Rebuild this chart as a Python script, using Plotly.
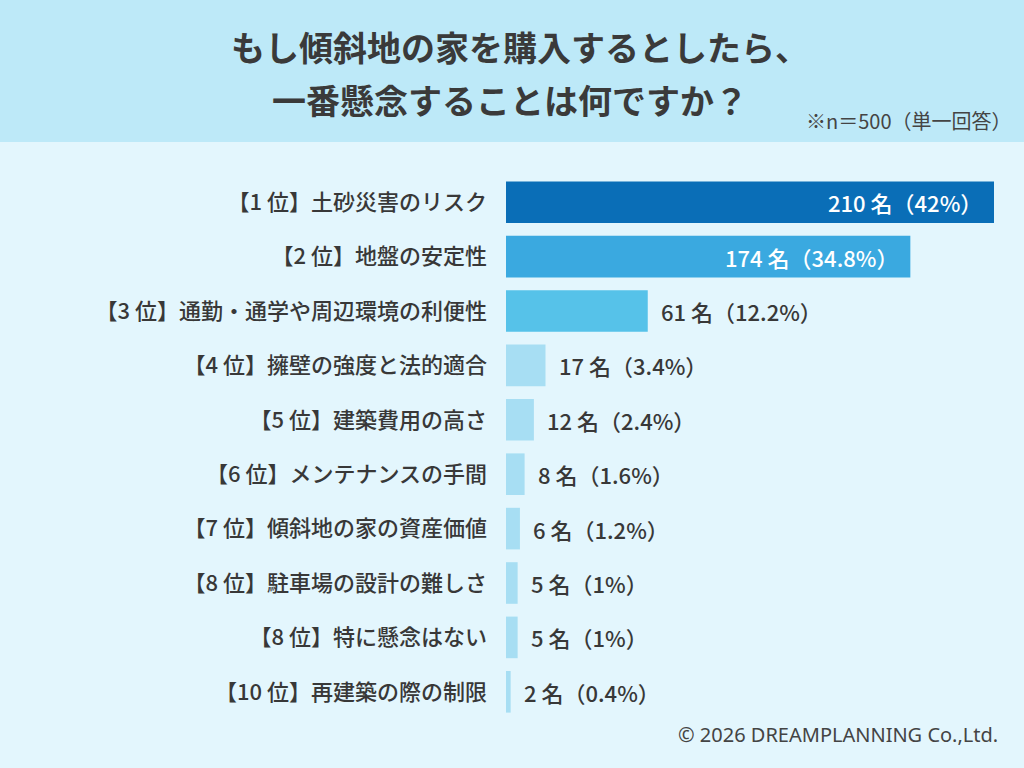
import plotly.graph_objects as go

# survey data (n=500, single answer)
labels = [
    "【1 位】土砂災害のリスク",
    "【2 位】地盤の安定性",
    "【3 位】通勤・通学や周辺環境の利便性",
    "【4 位】擁壁の強度と法的適合",
    "【5 位】建築費用の高さ",
    "【6 位】メンテナンスの手間",
    "【7 位】傾斜地の家の資産価値",
    "【8 位】駐車場の設計の難しさ",
    "【8 位】特に懸念はない",
    "【10 位】再建築の際の制限",
]
counts = [210, 174, 61, 17, 12, 8, 6, 5, 5, 2]
percents = ["42", "34.8", "12.2", "3.4", "2.4", "1.6", "1.2", "1", "1", "0.4"]
bar_colors = ["#0a6eb7", "#3aa9e0", "#56c2e9"] + ["#a7def3"] * 7

W, H = 1024, 768
M_T, M_B, M_L, M_R = 175, 49, 506, 30
FONT = "Noto Sans CJK JP"
FONT_MED = "Noto Sans CJK JP Medium, Noto Sans CJK JP"
TXT = "#383838"


def py(y):
    # pixel row -> paper y
    return (H - M_B - y) / (H - M_T - M_B)


def px(x):
    return (x - M_L) / (W - M_L - M_R)


fig = go.Figure()
fig.add_trace(go.Bar(
    x=counts,
    y=labels,
    orientation="h",
    marker=dict(color=bar_colors, line=dict(width=0)),
    hoverinfo="skip",
))

# value labels
for i, (c, p) in enumerate(zip(counts, percents)):
    inside = i < 2
    fig.add_annotation(
        x=c, y=labels[i], xref="x", yref="y",
        text=f"{c} 名（{p}%）",
        showarrow=False,
        xanchor="right" if inside else "left",
        xshift=-10 if inside else 11,
        font=dict(family=FONT_MED, size=22,
                  color="white" if inside else TXT),
    )

# header band
fig.add_shape(type="rect", xref="paper", yref="paper",
              x0=px(0), x1=px(W), y0=py(142), y1=py(0),
              fillcolor="#bde9f8", line=dict(width=0), layer="below")

fig.add_annotation(text="<b>もし傾斜地の家を購入するとしたら、</b>",
                   xref="paper", yref="paper", x=px(520), y=py(47),
                   showarrow=False, xanchor="center", yanchor="middle",
                   font=dict(family=FONT, size=34, color="#3a3a3a"))
fig.add_annotation(text="<b>一番懸念することは何ですか？</b>",
                   xref="paper", yref="paper", x=px(510), y=py(100),
                   showarrow=False, xanchor="center", yanchor="middle",
                   font=dict(family=FONT, size=34, color="#3a3a3a"))
fig.add_annotation(text="※n＝500（単一回答）",
                   xref="paper", yref="paper", x=px(1014), y=py(121),
                   showarrow=False, xanchor="right", yanchor="middle",
                   font=dict(family=FONT, size=20, color="#444444"))
fig.add_annotation(text="© 2026 DREAMPLANNING Co.,Ltd.",
                   xref="paper", yref="paper", x=px(1000), y=py(734),
                   showarrow=False, xanchor="right", yanchor="middle",
                   font=dict(family="Noto Sans", size=20, color="#444444"))

fig.update_layout(
    width=W, height=H,
    margin=dict(l=M_L, r=M_R, t=M_T, b=M_B, pad=0),
    paper_bgcolor="#e3f6fd",
    plot_bgcolor="rgba(0,0,0,0)",
    bargap=0.235,
    showlegend=False,
    xaxis=dict(range=[0, 210], visible=False, fixedrange=True),
    yaxis=dict(autorange="reversed", showgrid=False, zeroline=False,
               showline=False, ticks="", ticklabelstandoff=18,
               tickfont=dict(family=FONT_MED, size=22, color=TXT),
               fixedrange=True),
)

fig.write_html("out.html", config={"displayModeBar": False},
               post_script="document.body.style.margin='0';")
